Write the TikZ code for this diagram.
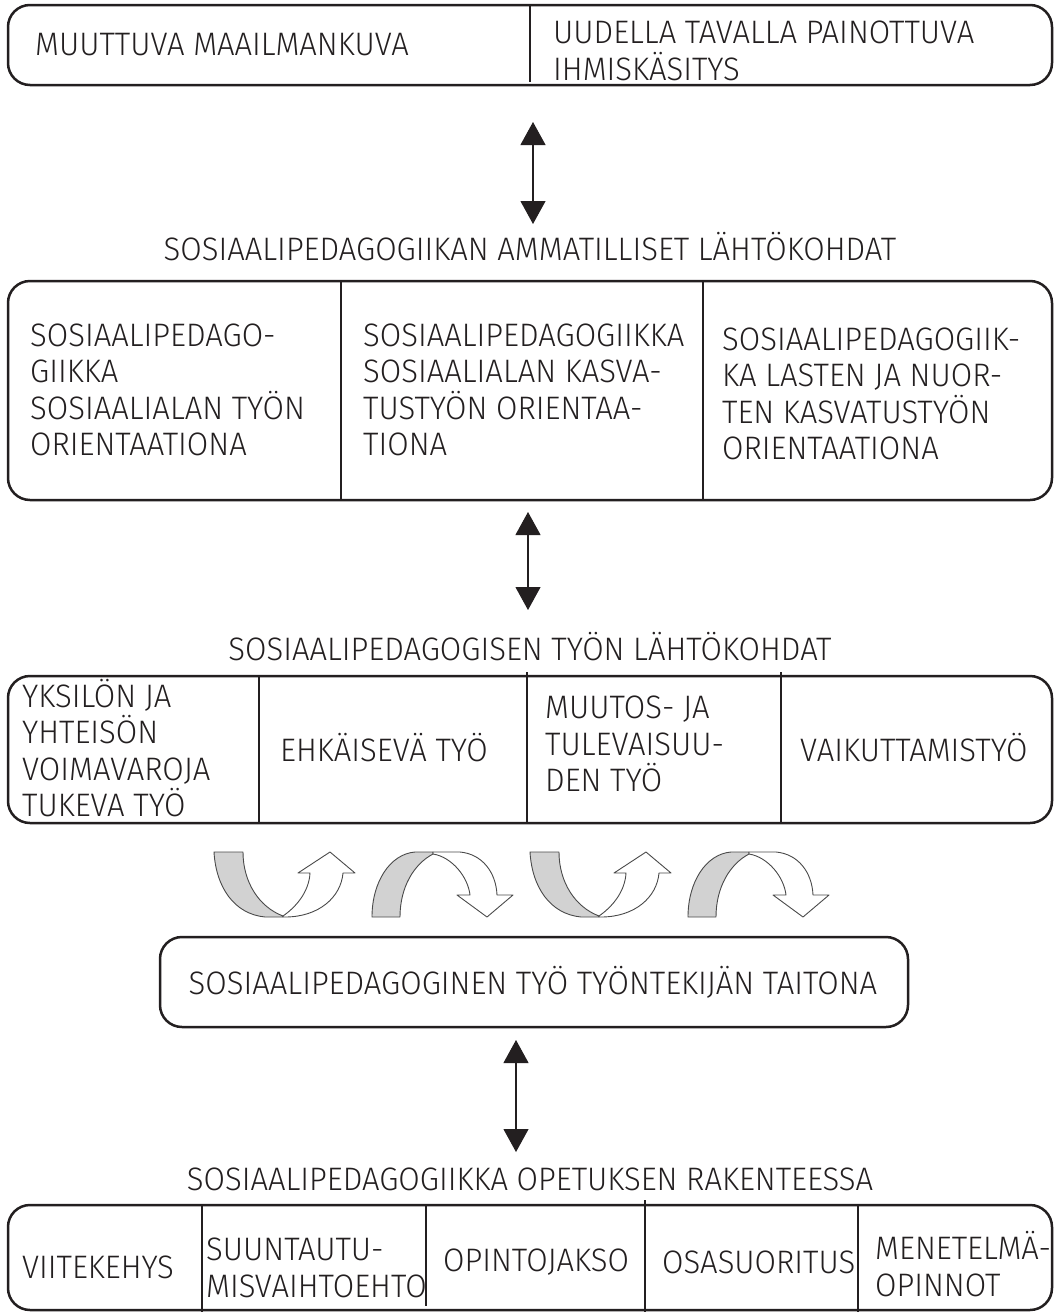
\documentclass[tikz,border=0pt]{standalone}
\usepackage{fontspec}
\setmainfont{Fira Sans Light}[FakeStretch=0.955]
\usetikzlibrary{arrows.meta}
\definecolor{ink}{HTML}{231F20}
\definecolor{band}{HTML}{D2D2D2}
\definecolor{edge}{HTML}{4A4A4A}
\tikzset{
  panel/.style={draw=ink, line width=2.5pt, rounded corners=22pt, inner sep=0pt},
  divider/.style={draw=ink, line width=2.2pt},
  label/.style={font=\fontsize{32.5}{36.5}\selectfont, align=left, inner sep=0pt, anchor=west, text=ink},
  heading/.style={font=\fontsize{32.5}{36.5}\selectfont, inner sep=0pt, anchor=center, text=ink},
  link/.style={draw=ink, line width=1.1pt, {Triangle[width=25pt,length=23pt]}-{Triangle[width=25pt,length=23pt]}},
  turnline/.style={draw=edge, line width=0.9pt, line join=round},
  % U-turn arrow: grey back band on the left, white front band rising to an upward head
  uturn/.pic={
    \path[turnline, fill=band] (0,0) -- (29,0) .. controls (29,30) and (45,55) .. (69,64)
      -- (69,65) -- (51,65) .. controls (20,62) and (2,35) .. (0,0) -- cycle;
    \path[turnline, fill=white] (69,64) .. controls (82,55) and (95,40) .. (96,21)
      -- (84,21) -- (116,0) -- (141,21) -- (129,21)
      .. controls (127,45) and (105,65) .. (71,65) -- (69,65) -- cycle;
  },
  % arch arrow: grey back band on the left, white front band falling to a downward head
  archturn/.pic={
    \path[turnline, fill=band] (0,65) .. controls (0,30) and (18,2) .. (43,0) -- (61,0)
      -- (61,2) .. controls (42,12) and (28,35) .. (28,65) -- cycle;
    \path[turnline, fill=white] (61,0) -- (88,0) .. controls (110,2) and (124,20) .. (125,43)
      -- (141,43) -- (115,65) -- (85,43) -- (98,43)
      .. controls (96,25) and (80,5) .. (61,2) -- cycle;
  }
}
\begin{document}
\begin{tikzpicture}[x=1pt, y=-1pt]
\useasboundingbox[fill=white] (0,0) rectangle (1059,1312);

% ---- top panel
\node[panel, minimum width=1044pt, minimum height=80pt] (top) at (530,45) {};
\draw[divider] (530,4) -- (530,82);
\node[label] (world) at (35,45) {MUUTTUVA MAAILMANKUVA};
\node[label] (human) at (553,51) {UUDELLA TAVALLA PAINOTTUVA\\IHMISKÄSITYS};

\coordinate (l1a) at (533,122);
\coordinate (l1b) at (533,224);
\draw[link] (l1a) -- (l1b);

\node[heading] (h1) at (530,247) {SOSIAALIPEDAGOGIIKAN AMMATILLISET LÄHTÖKOHDAT};

% ---- professional starting points
\node[panel, minimum width=1044pt, minimum height=219pt] (prof) at (530,390.5) {};
\draw[divider] (341,281) -- (341,500);
\draw[divider] (703,281) -- (703,500);
\node[label] (p1) at (30,390) {SOSIAALIPEDAGO-\\GIIKKA\\SOSIAALIALAN TYÖN\\ORIENTAATIONA};
\node[label] (p2) at (363,390) {SOSIAALIPEDAGOGIIKKA\\SOSIAALIALAN KASVA-\\TUSTYÖN ORIENTAA-\\TIONA};
\node[label] (p3) at (722,394) {SOSIAALIPEDAGOGIIK-\\KA LASTEN JA NUOR-\\TEN KASVATUSTYÖN\\ORIENTAATIONA};

\coordinate (l2a) at (528,512);
\coordinate (l2b) at (528,610);
\draw[link] (l2a) -- (l2b);

\node[heading] (h2) at (530,647) {SOSIAALIPEDAGOGISEN TYÖN LÄHTÖKOHDAT};

% ---- starting points of the work
\node[panel, minimum width=1044pt, minimum height=147pt] (work) at (530,749.5) {};
\draw[divider] (259,676) -- (259,823);
\draw[divider] (527,672) -- (527,823);
\draw[divider] (781,672) -- (781,823);
\node[label] (w1) at (22,748) {YKSILÖN JA\\YHTEISÖN\\VOIMAVAROJA\\TUKEVA TYÖ};
\node[label] (w2) at (280,748) {EHKÄISEVÄ TYÖ};
\node[label] (w3) at (545,744) {MUUTOS- JA\\TULEVAISUU-\\DEN TYÖ};
\node[label] (w4) at (800,748) {VAIKUTTAMISTYÖ};

% ---- turning arrows
\pic at (214,852) {uturn};
\pic at (372,852) {archturn};
\pic at (530,852) {uturn};
\pic at (688,852) {archturn};

% ---- skill panel
\node[panel, minimum width=748pt, minimum height=90pt] (skill) at (534,982) {};
\node[heading] (s1) at (533,982) {SOSIAALIPEDAGOGINEN TYÖ TYÖNTEKIJÄN TAITONA};

\coordinate (l3a) at (516,1040);
\coordinate (l3b) at (516,1152);
\draw[link] (l3a) -- (l3b);

\node[heading] (h3) at (530,1179) {SOSIAALIPEDAGOGIIKKA OPETUKSEN RAKENTEESSA};

% ---- teaching structure
\node[panel, minimum width=1044pt, minimum height=105pt] (teach) at (530,1257.5) {};
\draw[divider] (202,1205) -- (202,1312);
\draw[divider] (426,1205) -- (426,1306);
\draw[divider] (645,1200) -- (645,1312);
\draw[divider] (858,1205) -- (858,1312);
\node[label] (t1) at (22,1267) {VIITEKEHYS};
\node[label] (t2) at (206,1268) {SUUNTAUTU-\\MISVAIHTOEHTO};
\node[label] (t3) at (443,1262) {OPINTOJAKSO};
\node[label] (t4) at (662,1262) {OSASUORITUS};
\node[label] (t5) at (875,1264) {MENETELMÄ-\\OPINNOT};
\end{tikzpicture}
\end{document}
